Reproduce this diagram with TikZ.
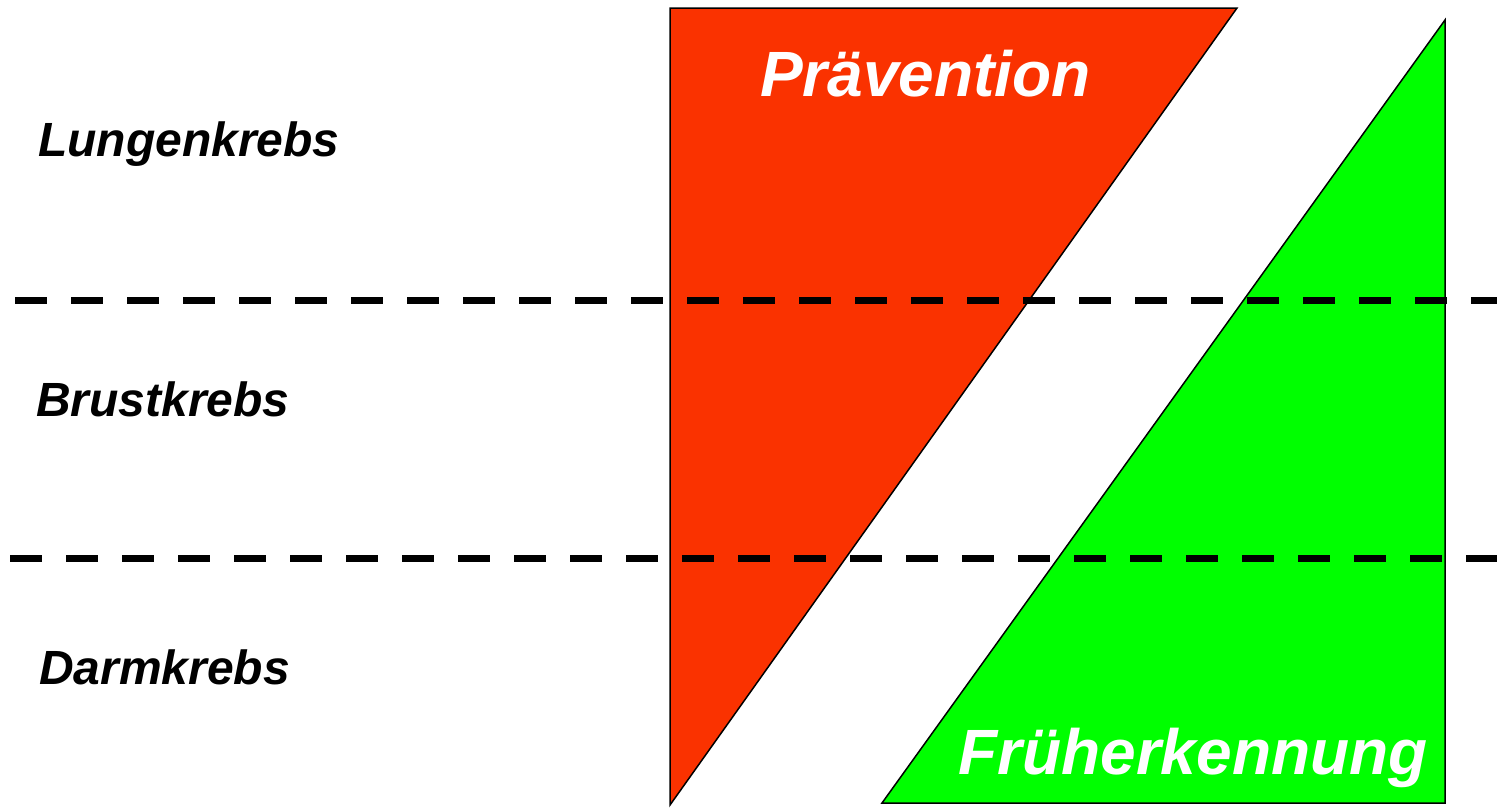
\documentclass[tikz,border=0pt]{standalone}
\usepackage{fontspec}
\setmainfont{Liberation Sans}
\definecolor{prared}{RGB}{250,50,0}
\definecolor{frgreen}{RGB}{0,255,0}
\begin{document}
\begin{tikzpicture}[x=1pt,y=-1pt,
  tri/.style={draw=black,line width=1.5pt,line join=miter},
  sep/.style={draw=black,line width=7pt,dash pattern=on 32pt off 24pt},
  lab/.style={anchor=base west,inner sep=0pt,font=\fontsize{48}{52}\selectfont\bfseries\itshape},
  big/.style={anchor=base west,inner sep=0pt,text=white,font=\fontsize{64}{68}\selectfont\bfseries\itshape}]
\useasboundingbox (0,0) rectangle (1497,807);
\coordinate (r1) at (670,8);
\coordinate (r2) at (1237,8);
\coordinate (r3) at (670,805);
\coordinate (g1) at (1445,20);
\coordinate (g2) at (1445,803);
\coordinate (g3) at (882,803);
\fill[prared] (r1) -- (r2) -- (r3) -- cycle;
\draw[tri] (r1) -- (r2) -- (r3) -- cycle;
\fill[frgreen] (g1) -- (g2) -- (g3) -- cycle;
\draw[tri] (g1) -- (g2) -- (g3) -- cycle;
\coordinate (d1a) at (15,300);
\coordinate (d1b) at (1497,300);
\coordinate (d2a) at (10,558);
\coordinate (d2b) at (1497,558);
\draw[sep] (d1a) -- (d1b);
\draw[sep] (d2a) -- (d2b);
\node[lab] (lung) at (38,156) {Lungenkrebs};
\node[lab] (brust) at (36,416) {Brustkrebs};
\node[lab] (darm) at (39,684) {Darmkrebs};
\node[big] (prae) at (760,96) {Prävention};
\node[big] (frueh) at (958,774) {Früherkennung};
\end{tikzpicture}
\end{document}
